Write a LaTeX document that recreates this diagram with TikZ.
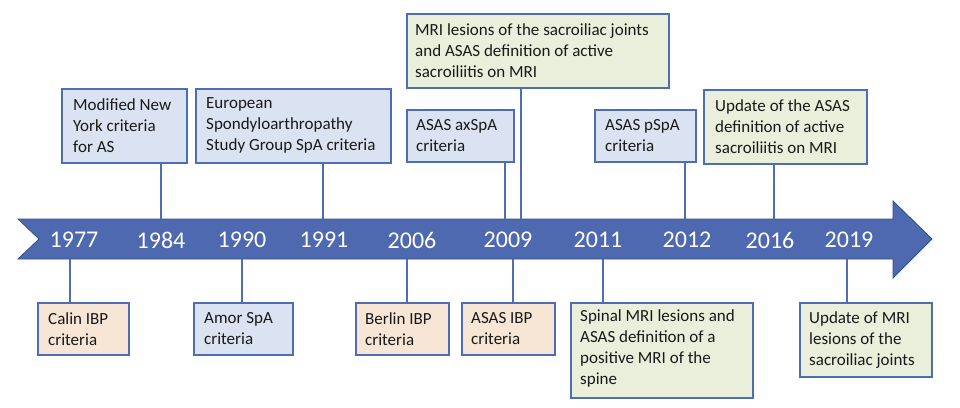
\documentclass[tikz,border=0pt]{standalone}
\usepackage{fontspec}
\setmainfont{Carlito}
\definecolor{arrowfill}{HTML}{4E69B0}
\definecolor{arrowline}{HTML}{34508F}
\definecolor{boxline}{HTML}{4F6DB5}
\definecolor{bluefill}{HTML}{DBE2F1}
\definecolor{peachfill}{HTML}{F7E6D5}
\definecolor{greenfill}{HTML}{EAEFDB}
\tikzset{
  box/.style={draw=boxline, line width=1.6pt, anchor=north west, inner sep=0pt},
  bluebox/.style={box, fill=bluefill},
  peachbox/.style={box, fill=peachfill},
  greenbox/.style={box, fill=greenfill},
  txt/.style={anchor=west, inner sep=0pt, align=left, font=\fontsize{17}{21}\selectfont, text=black!90},
  year/.style={text=white, font=\fontsize{24}{26}\selectfont, inner sep=0pt},
  conn/.style={draw=boxline, line width=1.6pt},
}
\begin{document}
\begin{tikzpicture}[x=1pt,y=-1pt]
\useasboundingbox (0,0) rectangle (960,407);
% arrow
\draw[fill=arrowfill, draw=arrowline, line width=0.8pt]
  (18,219) -- (893,219) -- (893,201) -- (932,239) -- (893,278) -- (893,259)
  -- (18,259) -- (39,239) -- cycle;
% years
\node[year] (y1977) at (74,240) {1977};
\node[year] (y1984) at (161,240) {1984};
\node[year] (y1990) at (242,240) {1990};
\node[year] (y1991) at (324,240) {1991};
\node[year] (y2006) at (412,240) {2006};
\node[year] (y2009) at (508,240) {2009};
\node[year] (y2011) at (598,240) {2011};
\node[year] (y2012) at (687,240) {2012};
\node[year] (y2016) at (770,240) {2016};
\node[year] (y2019) at (849,240) {2019};
% anchor points on arrow
\coordinate (t1984) at (161,219);
\coordinate (t1991) at (323,219);
\coordinate (t2009a) at (505,219);
\coordinate (t2009b) at (521,219);
\coordinate (t2012) at (685,219);
\coordinate (t2016) at (774,219);
\coordinate (b1977) at (70,259);
\coordinate (b1990) at (242,259);
\coordinate (b2006) at (407,259);
\coordinate (b2009) at (513,259);
\coordinate (b2011) at (603,259);
\coordinate (b2019) at (847,259);
% top boxes
\node[bluebox, minimum width=125pt, minimum height=74pt] (mny) at (61,88) {};
\node[txt] (mnyt) at ([xshift=12pt]mny.west) {Modified New\\York criteria\\for AS};
\node[bluebox, minimum width=195pt, minimum height=74pt] (esg) at (195,88) {};
\node[txt] (esgt) at ([xshift=11pt]esg.west) {European\\Spondyloarthropathy\\Study Group SpA criteria};
\node[bluebox, minimum width=107pt, minimum height=52pt] (axspa) at (406,109) {};
\node[txt] (axspat) at ([xshift=10pt]axspa.west) {ASAS axSpA\\criteria};
\node[greenbox, minimum width=262pt, minimum height=74pt] (mrisi) at (406,13) {};
\node[txt] (mrisit) at ([xshift=9pt]mrisi.west) {MRI lesions of the sacroiliac joints\\and ASAS definition of active\\sacroiliitis on MRI};
\node[bluebox, minimum width=101pt, minimum height=52pt] (pspa) at (594,109) {};
\node[txt] (pspat) at ([xshift=11pt]pspa.west) {ASAS pSpA\\criteria};
\node[greenbox, minimum width=163pt, minimum height=74pt] (upd) at (703,89) {};
\node[txt] (updt) at ([xshift=12pt]upd.west) {Update of the ASAS\\definition of active\\sacroiliitis on MRI};
% bottom boxes
\node[peachbox, minimum width=91pt, minimum height=52pt] (calin) at (37,302) {};
\node[txt] (calint) at ([xshift=11pt]calin.west) {Calin IBP\\criteria};
\node[bluebox, minimum width=99pt, minimum height=52pt] (amor) at (193,302) {};
\node[txt] (amort) at ([xshift=11pt]amor.west) {Amor SpA\\criteria};
\node[peachbox, minimum width=93pt, minimum height=52pt] (berlin) at (355,302) {};
\node[txt] (berlint) at ([xshift=10pt]berlin.west) {Berlin IBP\\criteria};
\node[peachbox, minimum width=93pt, minimum height=52pt] (asasibp) at (461,302) {};
\node[txt] (asasibpt) at ([xshift=10pt]asasibp.west) {ASAS IBP\\criteria};
\node[greenbox, minimum width=182pt, minimum height=95pt] (spinal) at (570,302) {};
\node[txt] (spinalt) at ([xshift=10pt,yshift=2pt]spinal.west) {Spinal MRI lesions and\\ASAS definition of a\\positive MRI of the\\spine};
\node[greenbox, minimum width=132pt, minimum height=74pt] (updmri) at (799,302) {};
\node[txt] (updmrit) at ([xshift=10pt]updmri.west) {Update of MRI\\lesions of the\\sacroiliac joints};
% connectors
\draw[conn] (mny.south -| t1984) -- (t1984);
\draw[conn] (esg.south -| t1991) -- (t1991);
\draw[conn] (axspa.south -| t2009a) -- (t2009a);
\draw[conn] (mrisi.south -| t2009b) -- (t2009b);
\draw[conn] (pspa.south -| t2012) -- (t2012);
\draw[conn] (upd.south -| t2016) -- (t2016);
\draw[conn] (b1977) -- (calin.north -| b1977);
\draw[conn] (b1990) -- (amor.north -| b1990);
\draw[conn] (b2006) -- (berlin.north -| b2006);
\draw[conn] (b2009) -- (asasibp.north -| b2009);
\draw[conn] (b2011) -- (spinal.north -| b2011);
\draw[conn] (b2019) -- (updmri.north -| b2019);
\end{tikzpicture}
\end{document}
